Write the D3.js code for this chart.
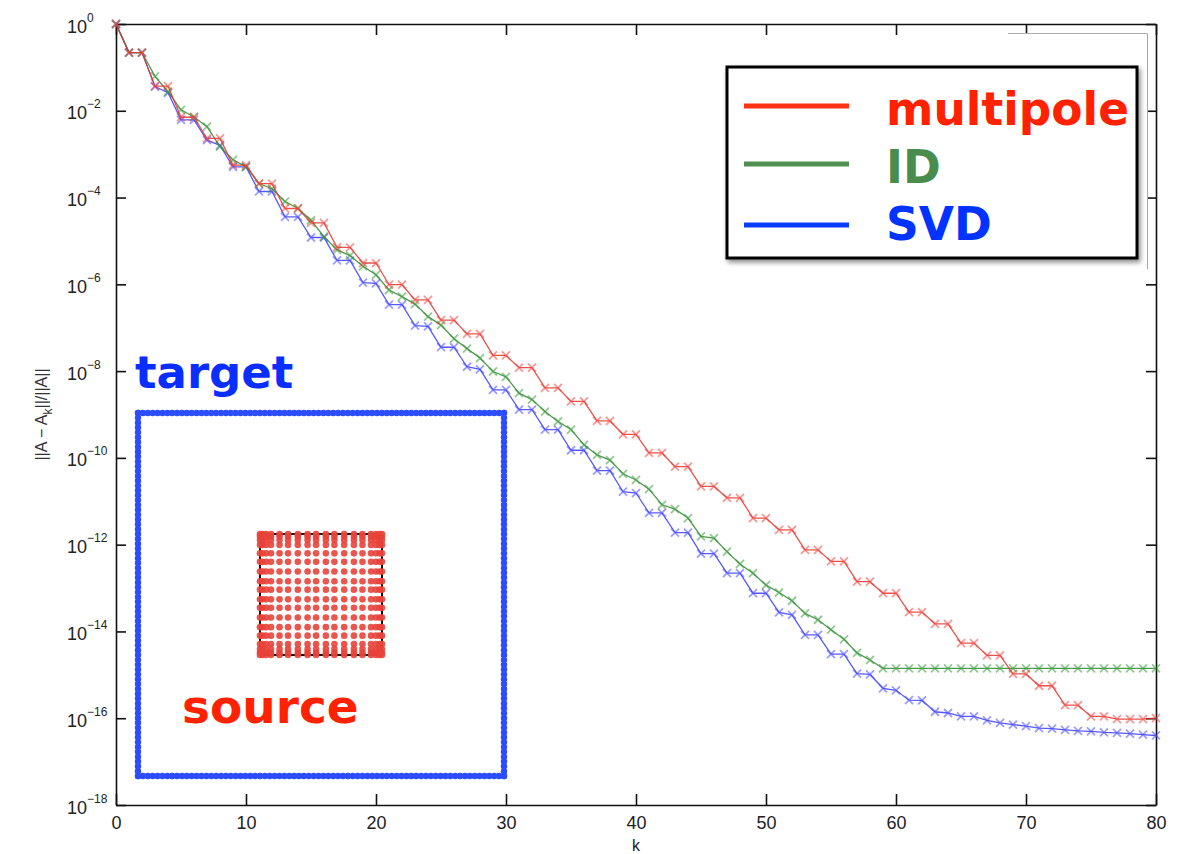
<!DOCTYPE html>
<html>
<head>
<meta charset="utf-8">
<script src="https://cdn.jsdelivr.net/npm/d3@7"></script>
<style>
  body { margin: 0; background: #fff; }
  svg { display: block; font-family: "Liberation Sans", Arial, sans-serif; }
</style>
</head>
<body>
<div id="chart"></div>
<script>
// relative error ||A - A_k|| / ||A||, index = k (0..80)
const multipole = [
  1, 2.2e-1, 2.2e-1, 3.7e-2, 3.7e-2, 7.1e-3, 7.1e-3, 2.3e-3, 2.3e-3, 5.6e-4,
  5.6e-4, 2.1e-4, 2.1e-4, 5.6e-5, 5.6e-5, 2.6e-5, 2.6e-5, 7.1e-6, 7.1e-6, 3.1e-6,
  3.1e-6, 9.8e-7, 9.8e-7, 4.4e-7, 4.4e-7, 1.5e-7, 1.5e-7, 7.2e-8, 7.2e-8, 2.3e-8,
  2.3e-8, 1.2e-8, 1.2e-8, 4.1e-9, 4.1e-9, 2.0e-9, 2.0e-9, 7.1e-10, 7.1e-10, 3.5e-10,
  3.5e-10, 1.3e-10, 1.3e-10, 6.3e-11, 6.3e-11, 2.2e-11, 2.2e-11, 1.2e-11, 1.2e-11, 4.1e-12,
  4.1e-12, 2.2e-12, 2.2e-12, 7.6e-13, 7.6e-13, 4.1e-13, 4.1e-13, 1.4e-13, 1.4e-13, 7.6e-14,
  7.6e-14, 2.8e-14, 2.8e-14, 1.5e-14, 1.5e-14, 5.4e-15, 5.4e-15, 2.8e-15, 2.8e-15, 1.05e-15,
  1.05e-15, 5.6e-16, 5.6e-16, 2.0e-16, 2.0e-16, 1.1e-16, 1.1e-16, 9.5e-17, 9.5e-17, 9.5e-17,
  1.0e-16
];
const idErr = [
  1, 2.2e-1, 2.2e-1, 6.2e-2, 2.75e-2, 1.05e-2, 7.2e-3, 4.3e-3, 1.5e-3, 7.4e-4,
  5.1e-4, 2.1e-4, 1.6e-4, 8.1e-5, 5.6e-5, 3.0e-5, 1.26e-5, 6.2e-6, 4.6e-6, 2.6e-6,
  1.66e-6, 7.4e-7, 5.2e-7, 3.5e-7, 1.8e-7, 1.15e-7, 5.6e-8, 3.3e-8, 2.0e-8, 9.8e-9,
  7.4e-9, 3.1e-9, 2.2e-9, 1.17e-9, 6.9e-10, 4.5e-10, 2.0e-10, 1.17e-10, 8.9e-11, 4.3e-11,
  3.1e-11, 1.9e-11, 8.3e-12, 6.6e-12, 4.1e-12, 1.55e-12, 1.41e-12, 6.9e-13, 3.6e-13, 2.2e-13,
  1.17e-13, 7.9e-14, 5.1e-14, 2.6e-14, 1.86e-14, 1.1e-14, 6.6e-15, 3.2e-15, 2.2e-15, 1.41e-15,
  1.41e-15, 1.41e-15, 1.41e-15, 1.41e-15, 1.41e-15, 1.41e-15, 1.41e-15, 1.41e-15, 1.41e-15, 1.41e-15,
  1.41e-15, 1.41e-15, 1.41e-15, 1.41e-15, 1.41e-15, 1.41e-15, 1.41e-15, 1.41e-15, 1.41e-15, 1.41e-15,
  1.41e-15
];
const svdErr = [
  1, 2.2e-1, 2.2e-1, 3.6e-2, 2.6e-2, 6.2e-3, 6.2e-3, 2.1e-3, 1.6e-3, 5.1e-4,
  5.1e-4, 1.38e-4, 1.38e-4, 3.6e-5, 3.6e-5, 1.2e-5, 1.2e-5, 3.55e-6, 3.55e-6, 1.1e-6,
  1.05e-6, 3.4e-7, 3.4e-7, 1.12e-7, 1.07e-7, 3.55e-8, 3.55e-8, 1.26e-8, 1.1e-8, 3.7e-9,
  3.7e-9, 1.29e-9, 1.29e-9, 4.5e-10, 4.5e-10, 1.5e-10, 1.5e-10, 5.1e-11, 5.1e-11, 1.66e-11,
  1.55e-11, 5.4e-12, 5.4e-12, 1.9e-12, 1.9e-12, 6.2e-13, 6.2e-13, 2.2e-13, 2.2e-13, 7.6e-14,
  7.6e-14, 2.75e-14, 2.4e-14, 8.3e-15, 8.3e-15, 3.0e-15, 3.0e-15, 1.07e-15, 1.02e-15, 4.9e-16,
  4.4e-16, 2.6e-16, 2.57e-16, 1.41e-16, 1.32e-16, 1.1e-16, 1.1e-16, 8.9e-17, 7.8e-17, 7.1e-17,
  6.6e-17, 5.9e-17, 5.75e-17, 5.4e-17, 5.1e-17, 5.0e-17, 4.7e-17, 4.6e-17, 4.4e-17, 4.2e-17,
  4.0e-17
];

const xTicks = [0, 10, 20, 30, 40, 50, 60, 70, 80];
const yTicks = [1, 1e-2, 1e-4, 1e-6, 1e-8, 1e-10, 1e-12, 1e-14, 1e-16, 1e-18];
const yTickExponents = ["0", "−2", "−4", "−6", "−8", "−10", "−12", "−14", "−16", "−18"];

const legendNames = ["multipole", "ID", "SVD"];
const legendLineColors = ["#ff3314", "#4f8f50", "#0a3cff"];
const legendTextColors = ["#ff2200", "#4a8c4e", "#0033ff"];

// inset sketch: source grid nodes on [0,1], target box boundary on [-1,2]
const sourceNodes = [0, 0.02, 0.05, 0.09, 0.16, 0.23, 0.31, 0.39, 0.46, 0.54,
  0.61, 0.69, 0.77, 0.84, 0.91, 0.95, 0.98, 1];
const targetSteps = d3.range(0, 76).map(i => -1 + (3 * i) / 75);

const series = [
  { key: "SVD", values: svdErr, line: "#3a3cff", mark: "#4a4cff" },
  { key: "ID", values: idErr, line: "#2e8a30", mark: "#3a9a3c" },
  { key: "multipole", values: multipole, line: "#e8322c", mark: "#ee4640" },
];

const W = 1199, H = 854;
const margin = { top: 24, right: 43, bottom: 49, left: 116 };
const width = W - margin.left - margin.right,
  height = H - margin.top - margin.bottom;

const svg = d3.select("#chart").append("svg")
  .attr("width", W)
  .attr("height", H);

const defs = svg.append("defs");
const shadow = defs.append("filter").attr("id", "shadow")
  .attr("x", "-10%").attr("y", "-10%").attr("width", "125%").attr("height", "130%");
shadow.append("feDropShadow")
  .attr("dx", 2).attr("dy", 3).attr("stdDeviation", 2.5)
  .attr("flood-color", "#000").attr("flood-opacity", 0.45);

const g = svg.append("g")
  .attr("transform", "translate(" + margin.left + "," + margin.top + ")");

var x = d3.scaleLinear().domain([0, 80]).range([0, width]);
var y = d3.scaleLog().domain([1e-18, 1]).range([height, 0]);

function styleAxis(sel) {
  sel.select(".domain").attr("stroke", "#111").attr("stroke-width", 1.6);
  sel.selectAll(".tick line").attr("stroke", "#111").attr("stroke-width", 1.6);
}

// bottom axis
const xAxis = g.append("g")
  .attr("transform", "translate(0," + height + ")")
  .call(d3.axisBottom(x).tickValues(xTicks).tickSizeInner(-11).tickSizeOuter(0).tickPadding(11))
  .call(styleAxis);
xAxis.selectAll(".tick text")
  .attr("font-size", 18)
  .attr("fill", "#222")
  .attr("font-family", "Liberation Sans, Arial, sans-serif");

// top axis
g.append("g")
  .call(d3.axisTop(x).tickValues(xTicks).tickSizeInner(-11).tickSizeOuter(0).tickFormat(""))
  .call(styleAxis);

// left axis
const yAxis = g.append("g")
  .call(d3.axisLeft(y).tickValues(yTicks).tickSizeInner(-10).tickSizeOuter(0).tickFormat(""))
  .call(styleAxis);
yAxis.selectAll(".tick").each(function (d, i) {
  const t = d3.select(this).append("text")
    .attr("x", -49)
    .attr("y", 8)
    .attr("text-anchor", "start")
    .attr("fill", "#222")
    .attr("font-size", 18)
    .attr("font-family", "Liberation Sans, Arial, sans-serif");
  t.append("tspan").text("10");
  t.append("tspan").attr("dy", -11).attr("font-size", 12).text(yTickExponents[i]);
});

// right axis
g.append("g")
  .attr("transform", "translate(" + width + ",0)")
  .call(d3.axisRight(y).tickValues(yTicks).tickSizeInner(-10).tickSizeOuter(0).tickFormat(""))
  .call(styleAxis);

// axis labels
svg.append("text")
  .attr("x", margin.left + x(40))
  .attr("y", 851)
  .attr("text-anchor", "middle")
  .attr("font-size", 16)
  .attr("fill", "#222")
  .text("k");

const yl = svg.append("text")
  .attr("transform", "translate(47," + (margin.top + height / 2) + ") rotate(-90)")
  .attr("text-anchor", "middle")
  .attr("font-size", 16)
  .attr("fill", "#333");
yl.append("tspan").text("||A − A");
yl.append("tspan").attr("dy", 5).attr("font-size", 12).text("k");
yl.append("tspan").attr("dy", -5).text("||/||A||");

// curves
const line = d3.line()
  .x((d, i) => x(i))
  .y(d => y(d));

const cross = "M-4,-4L4,4M-4,4L4,-4";

series.forEach(s => {
  const sg = g.append("g").attr("class", "series " + s.key);
  sg.append("path")
    .datum(s.values)
    .attr("fill", "none")
    .attr("stroke", s.line)
    .attr("stroke-width", 1.3)
    .attr("stroke-opacity", 0.85)
    .attr("d", line);
  sg.selectAll("path.mark")
    .data(s.values)
    .enter()
    .append("path")
    .attr("class", "mark")
    .attr("transform", (d, i) => "translate(" + x(i) + "," + y(d) + ")")
    .attr("d", cross)
    .attr("fill", "none")
    .attr("stroke", s.mark)
    .attr("stroke-width", 1.8)
    .attr("stroke-opacity", 0.55);
});

// pasted-image edge in the top right corner
svg.append("rect")
  .attr("x", 1008).attr("y", 33)
  .attr("width", 139).attr("height", 236)
  .attr("fill", "#fff");
svg.append("path")
  .attr("d", "M1008,33.5H1147.5V269")
  .attr("fill", "none")
  .attr("stroke", "#aaa")
  .attr("stroke-width", 1);

// legend
const legend = svg.append("g");
legend.append("rect")
  .attr("x", 727).attr("y", 67)
  .attr("width", 410).attr("height", 191)
  .attr("fill", "#fff")
  .attr("stroke", "#000")
  .attr("stroke-width", 3)
  .attr("filter", "url(#shadow)");
const legendRows = [106, 164, 225];
const legendBase = [125, 183, 240];
legendNames.forEach((name, i) => {
  legend.append("line")
    .attr("x1", 744).attr("x2", 849)
    .attr("y1", legendRows[i]).attr("y2", legendRows[i])
    .attr("stroke", legendLineColors[i])
    .attr("stroke-width", 5);
  legend.append("text")
    .attr("x", 886)
    .attr("y", legendBase[i])
    .attr("font-family", "DejaVu Sans, sans-serif")
    .attr("font-weight", "bold")
    .attr("font-size", 45.5)
    .attr("fill", legendTextColors[i])
    .text(name);
});

// inset: source / target sketch
var ix = d3.scaleLinear().domain([-1, 2]).range([138, 504]);
var iy = d3.scaleLinear().domain([-1, 2]).range([776, 413]);

const inset = svg.append("g");
const targetPts = [];
targetSteps.forEach(t => {
  targetPts.push([t, -1], [t, 2], [-1, t], [2, t]);
});
inset.selectAll("circle.target")
  .data(targetPts)
  .enter()
  .append("circle")
  .attr("class", "target")
  .attr("cx", d => ix(d[0]))
  .attr("cy", d => iy(d[1]))
  .attr("r", 3.2)
  .attr("fill", "#2c4dff");

inset.append("rect")
  .attr("x", ix(0)).attr("y", iy(1))
  .attr("width", ix(1) - ix(0)).attr("height", iy(0) - iy(1))
  .attr("fill", "none")
  .attr("stroke", "#111")
  .attr("stroke-width", 2);

const sourcePts = [];
sourceNodes.forEach(a => sourceNodes.forEach(b => sourcePts.push([a, b])));
inset.selectAll("circle.source")
  .data(sourcePts)
  .enter()
  .append("circle")
  .attr("class", "source")
  .attr("cx", d => ix(d[0]))
  .attr("cy", d => iy(d[1]))
  .attr("r", 3.3)
  .attr("fill", "#e8433b")
  .attr("fill-opacity", 0.9);

inset.append("text")
  .attr("x", 135).attr("y", 388)
  .attr("font-family", "DejaVu Sans, sans-serif")
  .attr("font-weight", "bold")
  .attr("font-size", 45)
  .attr("fill", "#0a2eff")
  .text("target");

inset.append("text")
  .attr("x", 182).attr("y", 723)
  .attr("font-family", "DejaVu Sans, sans-serif")
  .attr("font-weight", "bold")
  .attr("font-size", 47)
  .attr("fill", "#ff2200")
  .text("source");
</script>
</body>
</html>
